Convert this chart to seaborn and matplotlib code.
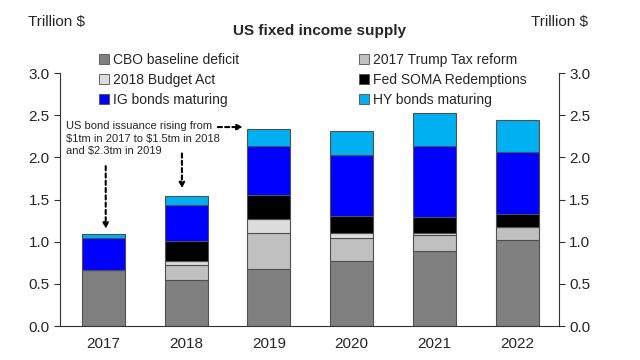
import seaborn as sns
import matplotlib.pyplot as plt
import numpy as np
from matplotlib.patches import Patch

years = ['2017', '2018', '2019', '2020', '2021', '2022']
cbo_deficit = [0.66, 0.55, 0.68, 0.77, 0.89, 1.02]
trump_tax = [0.00, 0.17, 0.43, 0.28, 0.19, 0.15]
budget_act = [0.00, 0.05, 0.16, 0.06, 0.02, 0.00]
soma_redemptions = [0.00, 0.24, 0.28, 0.19, 0.19, 0.16]
ig_maturing = [0.38, 0.43, 0.59, 0.73, 0.85, 0.73]
hy_maturing = [0.05, 0.10, 0.20, 0.28, 0.39, 0.38]

series = [
    ('CBO baseline deficit', cbo_deficit, '#808080'),
    ('2017 Trump Tax reform', trump_tax, '#c0c0c0'),
    ('2018 Budget Act', budget_act, '#dcdcdc'),
    ('Fed SOMA Redemptions', soma_redemptions, '#000000'),
    ('IG bonds maturing', ig_maturing, '#0000ff'),
    ('HY bonds maturing', hy_maturing, '#00b0f0'),
]

sns.set_style('white')
plt.rcParams['font.family'] = ['Liberation Sans', 'DejaVu Sans']

fig, ax = plt.subplots(figsize=(6.4, 3.6), dpi=100)
fig.subplots_adjust(left=0.094, right=0.873, bottom=0.094, top=0.797)

bottom = np.zeros(len(years))
for name, vals, col in series:
    sns.barplot(x=years, y=vals, bottom=bottom, color=col, width=0.52, saturation=1,
                edgecolor='#505050', linewidth=0.8, errorbar=None, ax=ax)
    bottom += np.array(vals)

ax.set_ylim(0, 3.0)
ax.set_xlim(-0.52, 5.5)
ax.set_yticks(np.arange(0, 3.01, 0.5))
ax.yaxis.set_major_formatter(plt.FormatStrFormatter('%.1f'))
ax.tick_params(axis='y', which='both', left=True, right=True, labelleft=True,
               labelright=True, direction='out', length=4, labelsize=11, color='#333333')
ax.tick_params(axis='x', length=0, labelsize=11, pad=8)
for s in ['left', 'right', 'bottom']:
    ax.spines[s].set_color('#333333')
    ax.spines[s].set_linewidth(0.8)
ax.spines['top'].set_visible(False)
ax.set_xlabel('')

fig.text(0.044, 0.94, 'Trillion \\$', fontsize=11, ha='left', va='center')
fig.text(0.83, 0.94, 'Trillion \\$', fontsize=11, ha='left', va='center')
fig.text(0.5, 0.915, 'US fixed income supply', fontsize=11, fontweight='bold',
         ha='center', va='center')

order = [0, 2, 4, 1, 3, 5]
handles = [Patch(facecolor=series[i][2], edgecolor='#505050', linewidth=0.6,
                 label=series[i][0]) for i in order]
fig.legend(handles=handles, ncol=2, loc='center', bbox_to_anchor=(0.489, 0.778),
           frameon=False, fontsize=10, handlelength=0.7, handleheight=0.7,
           handletextpad=0.3, columnspacing=8.6, labelspacing=0.45)

ax.text(-0.45, 2.43, 'US bond issuance rising from\n\\$1tm in 2017 to \\$1.5tm in 2018\nand \\$2.3tm in 2019',
        fontsize=8, ha='left', va='top', linespacing=1.3)
arrow = dict(arrowstyle='-|>', linestyle=(0, (2, 1.5)), color='black', lw=1.5,
             mutation_scale=8)
ax.annotate('', xy=(0.03, 1.12), xytext=(0.03, 1.93), arrowprops=arrow)
ax.annotate('', xy=(0.95, 1.6), xytext=(0.95, 2.08), arrowprops=arrow)
ax.annotate('', xy=(1.72, 2.36), xytext=(1.35, 2.36), arrowprops=arrow)

plt.savefig('out.png', dpi=100)
